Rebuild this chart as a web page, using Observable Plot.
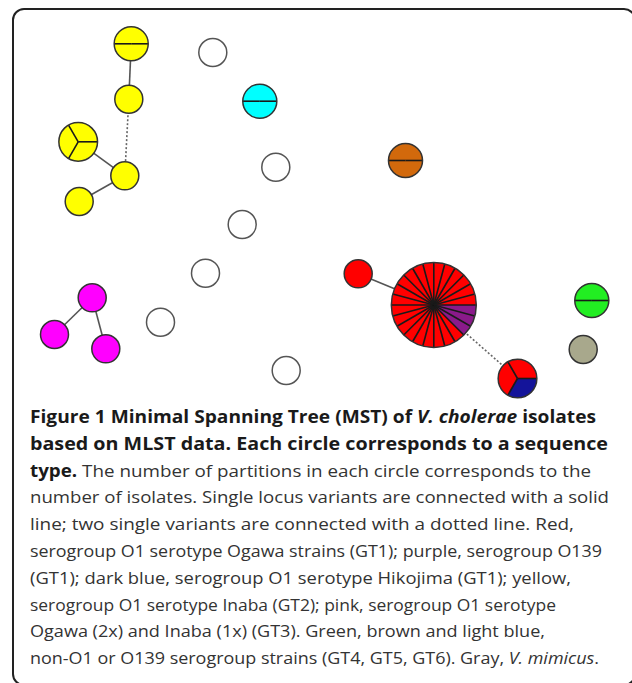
<!DOCTYPE html>
<html>
<head>
<meta charset="utf-8">
<script src="https://cdn.jsdelivr.net/npm/d3@7"></script>
<script src="https://cdn.jsdelivr.net/npm/@observablehq/plot@0.6"></script>
<style>
  html, body { margin: 0; padding: 0; background: #fff; }
  body { width: 632px; height: 683px; position: relative; overflow: hidden; }
  #frame { position: absolute; left: 12px; top: 8px; width: 620px; height: 674px;
           border: 2px solid #222; border-radius: 12px; }
  #chart { position: absolute; left: 0; top: 0; }
  #cap { position: absolute; left: 30px; top: 404px; font-family: "Open Sans", sans-serif;
         font-size: 17px; line-height: 26.8px; color: #333; }
  #cap .ln { white-space: nowrap; height: 26.8px; }
  #cap .ln span { display: inline-block; transform-origin: 0 50%; }
  #cap b { color: #1a1a1a; font-weight: 700; }
</style>
</head>
<body>
<div id="frame"></div>
<div id="chart"></div>
<div id="cap"></div>
<script>
// ---- data ----
const nodeIds = ["Y1","Y2","Y3","Y4","Y5","W1","W2","W3","W4","W5","W6","C1","B1","R1","P1","RB","G1","K1","M1","M2","M3"];
const nodeX   = [130.7,128.3,77.7,124.3,78.7,212.3,275.3,241.7,205,160,285.7,259.3,405,357.7,433.3,517,591.3,582.7,91.7,54,105.3];
const nodeY   = [43.3,98.7,141.3,175.3,201,52,166.7,224,272.7,321.7,370,100.7,160,273.3,304.5,378,300,349,297.3,334,348.3];
// isolates per group in each sequence type (slices start at 3 o'clock, clockwise)
const nodeParts = [
  [["inaba",2]], [["inaba",1]], [["inaba",3]], [["inaba",1]], [["inaba",1]],
  [["other",1]], [["other",1]], [["other",1]], [["other",1]], [["other",1]], [["other",1]],
  [["gt6",2]], [["gt5",2]], [["ogawa",1]],
  [["o139",3],["ogawa",21]],
  [["hikojima",1],["ogawa",2]],
  [["gt4",2]], [["mimicus",1]],
  [["gt3",1]], [["gt3",1]], [["gt3",1]]
];
const edgeSource = ["Y1","Y2","Y4","Y4","M1","M1","R1","P1"];
const edgeTarget = ["Y2","Y4","Y3","Y5","M2","M3","P1","RB"];
const edgeKind   = ["solid","dotted","solid","solid","solid","solid","solid","dotted"];

const captionLines = [
  '<b>Figure 1 Minimal Spanning Tree (MST) of <i>V. cholerae</i> isolates</b>',
  '<b>based on MLST data. Each circle corresponds to a sequence</b>',
  '<b>type.</b> The number of partitions in each circle corresponds to the',
  'number of isolates. Single locus variants are connected with a solid',
  'line; two single variants are connected with a dotted line. Red,',
  'serogroup O1 serotype Ogawa strains (GT1); purple, serogroup O139',
  '(GT1); dark blue, serogroup O1 serotype Hikojima (GT1); yellow,',
  'serogroup O1 serotype Inaba (GT2); pink, serogroup O1 serotype',
  'Ogawa (2x) and Inaba (1x) (GT3). Green, brown and light blue,',
  'non-O1 or O139 serogroup strains (GT4, GT5, GT6). Gray, <i>V. mimicus</i>.'
];
const captionRight = [596,608,591,609,574,602,571,556,545,599];

// ---- styles ----
const groupColor = {inaba:"#ffff00", ogawa:"#ff0000", o139:"#8b1a8b", hikojima:"#14149a",
  gt3:"#ff00ff", gt4:"#22ee22", gt5:"#d2690c", gt6:"#00ffff", mimicus:"#a8a88c", other:"#ffffff"};

const W = 632, H = 400;
const nodes = nodeIds.map((id, i) => {
  const parts = nodeParts[i];
  const n = d3.sum(parts, p => p[1]);
  return {id, i, x: nodeX[i], y: nodeY[i], n, r: 6.7 + 7.3 * Math.sqrt(n),
          fill: groupColor[parts[0][0]], white: parts[0][0] === "other"};
});
const byId = new Map(nodes.map(d => [d.id, d]));
const links = edgeSource.map((s, i) => ({a: byId.get(s), b: byId.get(edgeTarget[i]), kind: edgeKind[i]}));

const wedges = [], spokes = [];
nodes.forEach(nd => {
  if (nd.n < 2) return;
  const step = 2 * Math.PI / nd.n;
  let k = 0;
  nodeParts[nd.i].forEach(([g, c]) => {
    for (let j = 0; j < c; j++, k++) {
      const a0 = k * step, a1 = (k + 1) * step, id = nd.id + "-" + k, color = groupColor[g];
      wedges.push({id, x: nd.x, y: nd.y, color});
      const m = Math.max(4, Math.ceil((a1 - a0) / (Math.PI / 60)));
      for (let t = 0; t <= m; t++) {
        const a = a0 + (a1 - a0) * t / m;
        wedges.push({id, x: nd.x + nd.r * Math.cos(a), y: nd.y + nd.r * Math.sin(a), color});
      }
      wedges.push({id, x: nd.x, y: nd.y, color});
      spokes.push({x1: nd.x, y1: nd.y, x2: nd.x + nd.r * Math.cos(a0), y2: nd.y + nd.r * Math.sin(a0)});
    }
  });
});

const chart = Plot.plot({
  width: W, height: H, margin: 0,
  x: {domain: [0, W], range: [0, W], axis: null},
  y: {domain: [0, H], range: [0, H], axis: null},
  r: {type: "identity"},
  color: {type: "identity"},
  marks: [
    Plot.link(links.filter(d => d.kind === "solid"), {
      x1: d => d.a.x, y1: d => d.a.y, x2: d => d.b.x, y2: d => d.b.y,
      stroke: "#555", strokeWidth: 1.6}),
    Plot.link(links.filter(d => d.kind === "dotted"), {
      x1: d => d.a.x, y1: d => d.a.y, x2: d => d.b.x, y2: d => d.b.y,
      stroke: "#666", strokeWidth: 1.6, strokeDasharray: "2,2"}),
    Plot.dot(nodes, {x: "x", y: "y", r: "r", fill: "fill", stroke: "none"}),
    Plot.line(wedges, {x: "x", y: "y", z: "id", fill: "color", stroke: "none", curve: "linear"}),
    Plot.link(spokes, {x1: "x1", y1: "y1", x2: "x2", y2: "y2", stroke: "#1a1a1a", strokeWidth: 1.6}),
    Plot.dot(nodes, {x: "x", y: "y", r: "r", fill: "none",
      stroke: d => d.white ? "#555555" : "#333333", strokeWidth: 1.5})
  ]
});
document.getElementById("chart").appendChild(chart);

const cap = document.getElementById("cap");
captionLines.forEach(t => {
  const div = document.createElement("div");
  div.className = "ln";
  const sp = document.createElement("span");
  sp.innerHTML = t;
  div.appendChild(sp);
  cap.appendChild(div);
});
function fit() {
  cap.querySelectorAll(".ln span").forEach((sp, i) => {
    sp.style.transform = "none";
    const w = sp.getBoundingClientRect().width;
    const target = captionRight[i] - 30;
    sp.style.transform = `scaleX(${target / w})`;
  });
}
fit();
if (document.fonts && document.fonts.ready) document.fonts.ready.then(fit);
</script>
</body>
</html>
